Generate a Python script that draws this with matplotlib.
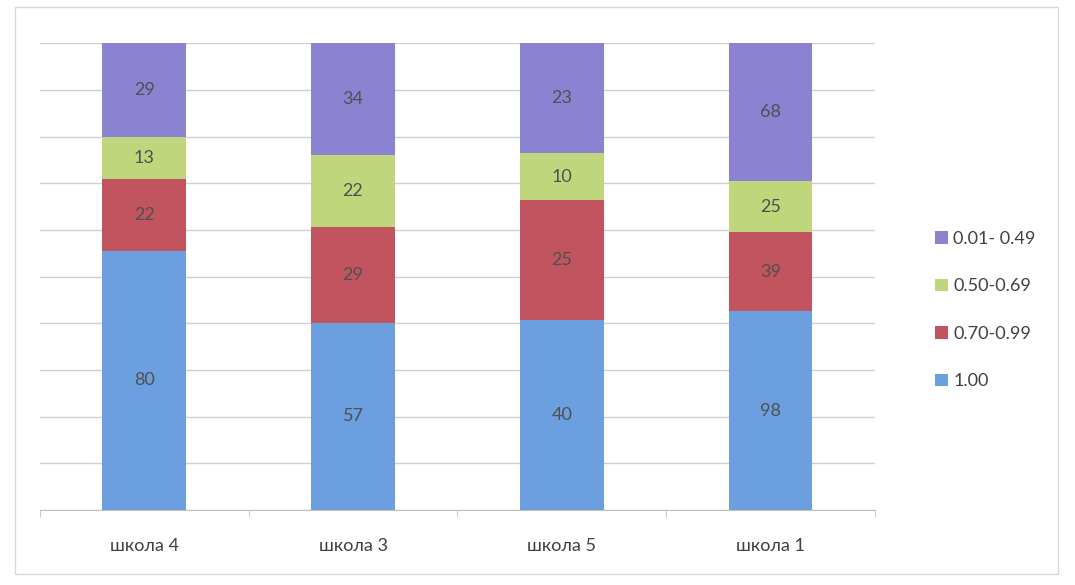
import numpy as np
import matplotlib
matplotlib.use("Agg")
from matplotlib import pyplot as plt
from matplotlib.patches import Rectangle

plt.rcParams["font.family"] = ["Lato", "DejaVu Sans"]

schools = ["школа 4", "школа 3", "школа 5", "школа 1"]
series_names = ["1.00", "0.70-0.99", "0.50-0.69", "0.01- 0.49"]
val_100 = [80, 57, 40, 98]
val_070 = [22, 29, 25, 39]
val_050 = [13, 22, 10, 25]
val_001 = [29, 34, 23, 68]
colors = ["#6b9fe0", "#c2545f", "#c0d67c", "#8b82d2"]

series = np.array([val_100, val_070, val_050, val_001], dtype=float)
totals = series.sum(axis=0)
shares = series / totals * 100

fig = plt.figure(figsize=(10.75, 5.85), dpi=100)
ax = fig.add_axes([0.037, 0.128, 0.777, 0.798])

x = np.arange(len(schools))
bottom = np.zeros(len(schools))
for i, name in enumerate(series_names):
    bars = ax.bar(x, shares[i], 0.4, bottom=bottom, color=colors[i], label=name, zorder=3)
    for j, b in enumerate(bars):
        ax.text(b.get_x() + b.get_width() / 2, bottom[j] + shares[i][j] / 2,
                str(int(series[i][j])), ha="center", va="center",
                fontsize=13, color="#505050", zorder=4)
    bottom += shares[i]

ax.set_xlim(-0.5, len(schools) - 0.5)
ax.set_ylim(0, 100)
ax.set_yticks(np.arange(0, 101, 10))
ax.yaxis.grid(True, color="#d0d0d0", linewidth=1, zorder=0)
ax.tick_params(axis="y", length=0, labelleft=False)
ax.set_xticks(x)
ax.set_xticklabels(schools, fontsize=13, color="#404040")
ax.set_xticks(np.arange(-0.5, len(schools), 1), minor=True)
ax.tick_params(axis="x", which="major", length=0, pad=20)
ax.tick_params(axis="x", which="minor", length=5, color="#c0c0c0")
for s in ["top", "right", "left"]:
    ax.spines[s].set_visible(False)
ax.spines["bottom"].set_color("#c0c0c0")

handles, labels = ax.get_legend_handles_labels()
leg = fig.legend(handles[::-1], labels[::-1], loc="center left",
                 bbox_to_anchor=(0.855, 0.47), frameon=False, fontsize=13,
                 handlelength=0.7, handleheight=0.7, handletextpad=0.3,
                 labelspacing=1.75)
for t in leg.get_texts():
    t.set_color("#404040")

fig.patches.append(Rectangle((0.014, 0.018), 0.97, 0.97, transform=fig.transFigure,
                             fill=False, edgecolor="#d8d8d8", linewidth=1))

fig.savefig("out.png", dpi=100)
